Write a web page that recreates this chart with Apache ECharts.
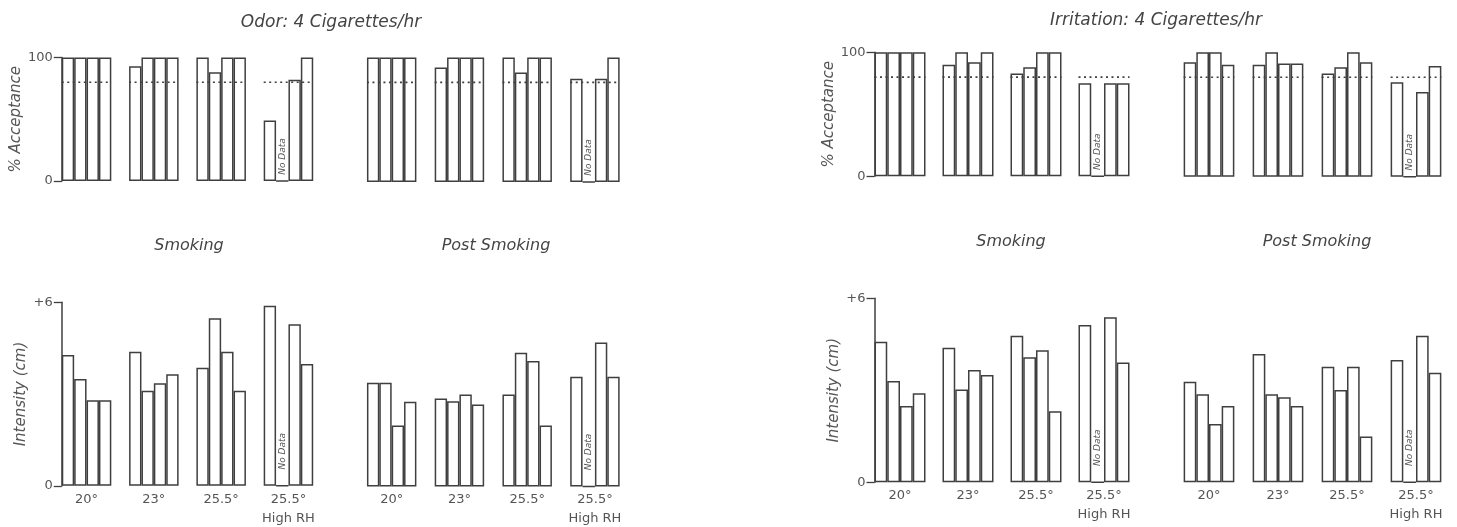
<!DOCTYPE html>
<html>
<head>
<meta charset="utf-8">
<title>Odor and Irritation: 4 Cigarettes/hr</title>
<script src="https://cdn.jsdelivr.net/npm/echarts@6/dist/echarts.min.js"></script>
<style>
  html, body { margin: 0; padding: 0; background: #ffffff; }
  #chart { width: 1457px; height: 527px; }
</style>
</head>
<body>
<div id="chart"></div>
<script>
// Temperature conditions; each condition holds four bars (null = no data)
const conditions = ['20°', '23°', '25.5°', '25.5°\nHigh RH'];
const acceptanceCriterion = 80;
const acceptanceTicks = ['0', '100'];
const intensityTicks = ['0', '+6'];

// Odor — % acceptance
const odorSmokingAcceptance = [[100, 100, 100, 100], [93, 100, 100, 100], [100, 88, 100, 100], [49, null, 82, 100]];
const odorPostAcceptance = [[100, 100, 100, 100], [92, 100, 100, 100], [100, 88, 100, 100], [83, null, 83, 100]];
// Odor — intensity (cm)
const odorSmokingIntensity = [[4.28, 3.49, 2.80, 2.80], [4.38, 3.11, 3.35, 3.65], [3.86, 5.48, 4.38, 3.11], [5.89, null, 5.28, 3.98]];
const odorPostIntensity = [[3.38, 3.38, 1.99, 2.76], [2.87, 2.78, 3.00, 2.67], [3.00, 4.36, 4.09, 1.99], [3.58, null, 4.69, 3.58]];

// Irritation — % acceptance
const irritSmokingAcceptance = [[100, 100, 100, 100], [90, 100, 92, 100], [83, 88, 100, 100], [75, null, 75, 75]];
const irritPostAcceptance = [[92, 100, 100, 90], [90, 100, 91, 91], [83, 88, 100, 92], [76, null, 68, 89]];
// Irritation — intensity (cm)
const irritSmokingIntensity = [[4.58, 3.30, 2.49, 2.90], [4.39, 3.03, 3.66, 3.50], [4.78, 4.08, 4.31, 2.32], [5.13, null, 5.38, 3.91]];
const irritPostIntensity = [[3.28, 2.87, 1.90, 2.49], [4.18, 2.87, 2.77, 2.49], [3.77, 3.01, 3.77, 1.49], [3.99, null, 4.78, 3.57]];

const FONT = 'DejaVu Sans';
const INK = '#3f3f3f';
const TEXT = '#555555';

// Panel layout: one grid per bar block
const panels = [
  { rows: odorSmokingAcceptance, kind: 'acc', axis: true, name: '% Acceptance', left: 52.9, width: 269.2, top: 57.5, height: 123.5, gap: 0.264 },
  { rows: odorPostAcceptance, kind: 'acc', axis: false, left: 357.8, width: 271, top: 57.5, height: 124.5, gap: 0.27 },
  { rows: odorSmokingIntensity, kind: 'int', axis: true, name: 'Intensity (cm)', left: 52.9, width: 269.2, top: 302.3, height: 183.5, gap: 0.264 },
  { rows: odorPostIntensity, kind: 'int', axis: false, left: 357.8, width: 271, top: 302.3, height: 184.3, gap: 0.27 },
  { rows: irritSmokingAcceptance, kind: 'acc', axis: true, name: '% Acceptance', left: 866, width: 272, top: 52.3, height: 124, gap: 0.25 },
  { rows: irritPostAcceptance, kind: 'acc', axis: false, left: 1174.5, width: 276, top: 52.3, height: 124.4, gap: 0.265 },
  { rows: irritSmokingIntensity, kind: 'int', axis: true, name: 'Intensity (cm)', left: 866, width: 272, top: 298.3, height: 184, gap: 0.25 },
  { rows: irritPostIntensity, kind: 'int', axis: false, left: 1174.5, width: 276, top: 298.3, height: 184, gap: 0.265 }
];

const grids = [], xAxes = [], yAxes = [], series = [];

panels.forEach((p, gi) => {
  const isAcc = p.kind === 'acc';
  const band = p.width / conditions.length;
  const halfGap = band * p.gap / 2;
  grids.push({
    left: p.left, top: p.top, width: p.width, height: p.height,
    containLabel: false, outerBoundsMode: 'none'
  });
  xAxes.push({
    type: 'category', gridIndex: gi, data: conditions,
    axisLine: { show: false }, axisTick: { show: false }, splitLine: { show: false },
    axisLabel: {
      show: !isAcc, interval: 0, hideOverlap: false, margin: 4,
      color: TEXT, fontFamily: FONT, fontSize: 13, lineHeight: 19
    }
  });
  const ticks = isAcc ? acceptanceTicks : intensityTicks;
  const maxV = isAcc ? 100 : 6;
  yAxes.push({
    type: 'value', gridIndex: gi, min: 0, max: maxV, interval: maxV,
    show: p.axis, offset: -halfGap,
    name: p.name || '', nameLocation: 'middle', nameRotate: 90, nameGap: 33,
    nameTextStyle: { color: TEXT, fontFamily: FONT, fontStyle: 'italic', fontSize: 15 },
    axisLine: { show: true, lineStyle: { color: INK, width: 1.5 } },
    axisTick: { show: true, length: 8, lineStyle: { color: INK, width: 1.3 } },
    axisLabel: {
      margin: 9, color: TEXT, fontFamily: FONT, fontSize: 13,
      formatter: v => (v === 0 ? ticks[0] : ticks[1])
    },
    splitLine: { show: false }
  });
  for (let k = 0; k < 4; k++) {
    series.push({
      type: 'bar', xAxisIndex: gi, yAxisIndex: gi,
      barGap: '0%', barCategoryGap: (p.gap * 100) + '%',
      itemStyle: { color: '#ffffff', borderColor: INK, borderWidth: 1.5 },
      emphasis: { disabled: true },
      data: p.rows.map(r => r[k] === null ? {
        value: 0,
        label: {
          show: true, formatter: 'No Data', position: 'insideBottom', rotate: 90,
          align: 'left', verticalAlign: 'middle', distance: isAcc ? 7 : 17,
          color: TEXT, fontFamily: FONT, fontStyle: 'italic', fontSize: 9
        }
      } : r[k])
    });
  }
  if (isAcc) {
    // dotted acceptance criterion across each group of bars
    series.push({
      type: 'custom', xAxisIndex: gi, yAxisIndex: gi, z: 5, silent: true,
      data: conditions.map((c, i) => [i, acceptanceCriterion]),
      renderItem: (params, api) => {
        const c = api.coord([api.value(0), api.value(1)]);
        const w = api.size([1, 0])[0] * (1 - p.gap) / 2;
        return {
          type: 'line',
          shape: { x1: c[0] - w, y1: c[1], x2: c[0] + w, y2: c[1] },
          style: { stroke: INK, lineWidth: 1.6, lineDash: [2, 3.5] }
        };
      }
    });
  }
});

const headStyle = { color: '#444', fontFamily: FONT, fontStyle: 'italic', fontWeight: 'normal', fontSize: 17 };
const subStyle = { color: '#444', fontFamily: FONT, fontStyle: 'italic', fontWeight: 'normal', fontSize: 16 };
const titles = [
  { text: 'Odor: 4 Cigarettes/hr', left: 326, top: 9, textAlign: 'center', textStyle: headStyle },
  { text: 'Irritation: 4 Cigarettes/hr', left: 1151, top: 7, textAlign: 'center', textStyle: headStyle },
  { text: 'Smoking', left: 184, top: 233, textAlign: 'center', textStyle: subStyle },
  { text: 'Post Smoking', left: 491, top: 233, textAlign: 'center', textStyle: subStyle },
  { text: 'Smoking', left: 1006, top: 229, textAlign: 'center', textStyle: subStyle },
  { text: 'Post Smoking', left: 1312, top: 229, textAlign: 'center', textStyle: subStyle }
];

const chart = echarts.init(document.getElementById('chart'), null, { renderer: 'canvas' });
chart.setOption({
  backgroundColor: '#ffffff',
  animation: false,
  title: titles,
  grid: grids,
  xAxis: xAxes,
  yAxis: yAxes,
  series: series
});
</script>
</body>
</html>
